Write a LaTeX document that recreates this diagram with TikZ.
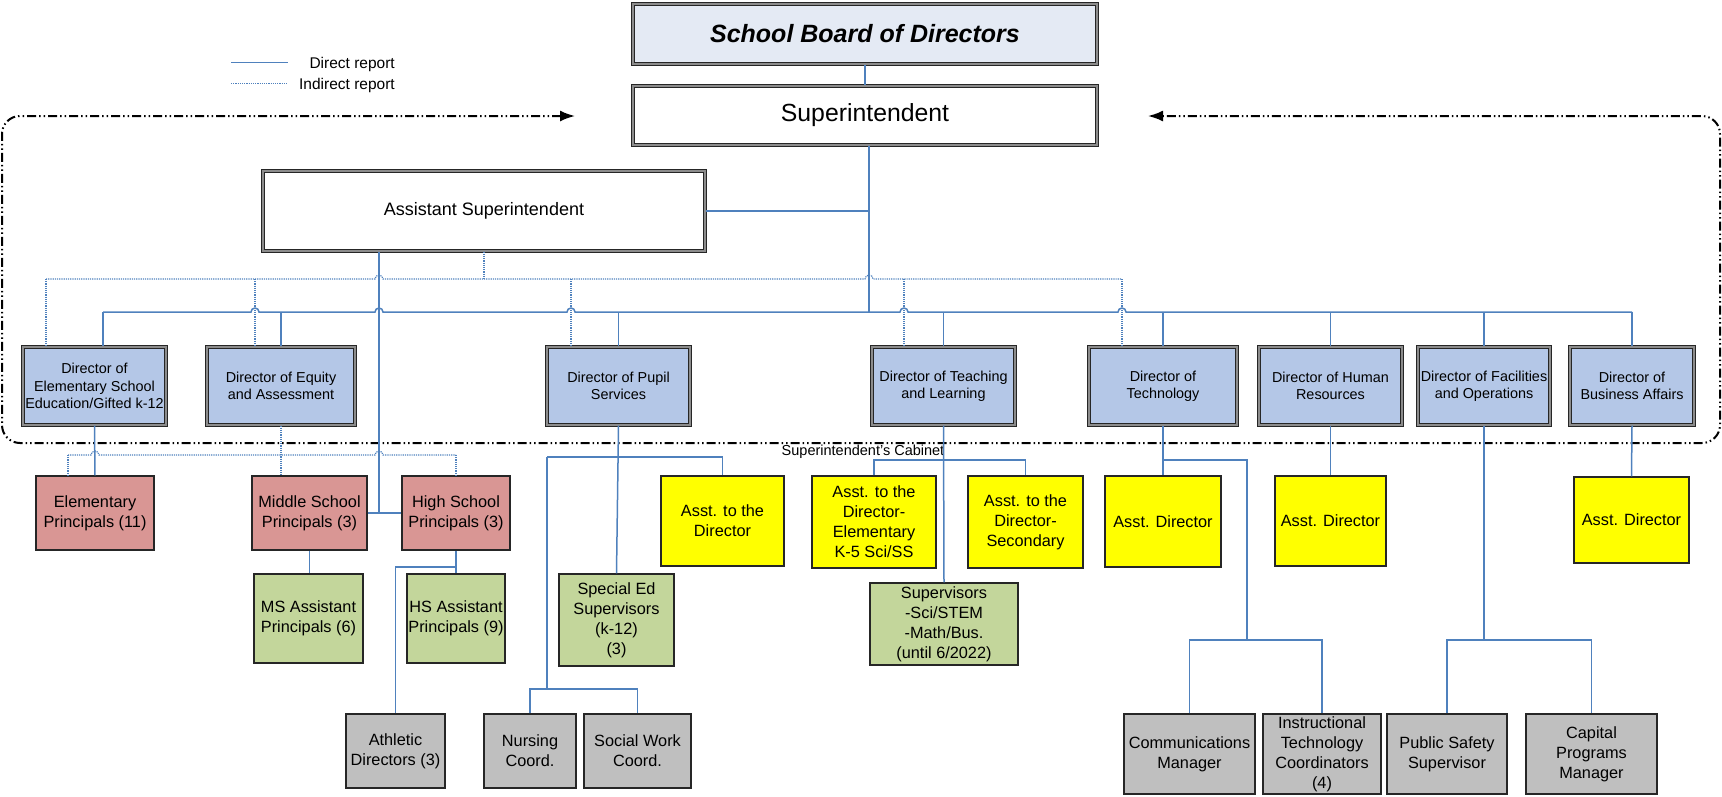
\documentclass[tikz,border=0pt]{standalone}
\usepackage{fontspec}
\setmainfont{Liberation Sans}
\usetikzlibrary{arrows.meta}
\definecolor{lnblue}{HTML}{4F81BD}
\definecolor{dirblue}{HTML}{B4C7E7}
\definecolor{boardbg}{HTML}{E4EAF4}
\definecolor{pred}{HTML}{D99694}
\definecolor{pgreen}{HTML}{C3D69B}
\definecolor{pyellow}{HTML}{FFFF00}
\definecolor{pgray}{HTML}{BFBFBF}
\begin{document}
\begin{tikzpicture}[x=1pt,y=-1pt,
  dbl/.style={draw=black!85, line width=1.1pt, double=black!45, double distance=1.8pt, inner sep=0pt, align=center},
  dirbox/.style={dbl, fill=dirblue, minimum height=78pt, font=\fontsize{14.4}{17.3}\selectfont},
  box/.style={draw=black!85, line width=1.4pt, inner sep=0pt, align=center, font=\fontsize{16.3}{20}\selectfont},
  redbox/.style={box, fill=pred},
  greenbox/.style={box, fill=pgreen},
  yelbox/.style={box, fill=pyellow},
  graybox/.style={box, fill=pgray},
  conn/.style={draw=lnblue, line width=1.5pt},
  ind/.style={draw=lnblue, line width=1.2pt, dash pattern=on 1.2pt off 1pt},
  cab/.style={draw=black, line width=2pt, dash pattern=on 9pt off 3pt on 1.5pt off 3pt on 1.5pt off 3pt}
]
\useasboundingbox (0,0) rectangle (1722,796);

% ---------- top boxes ----------
\node[dbl, fill=boardbg, minimum width=464pt, minimum height=60pt, font=\fontsize{25}{30}\selectfont\bfseries\itshape] (board) at (865,34) {School Board of Directors};
\node[dbl, fill=white, minimum width=464pt, minimum height=59pt, font=\fontsize{24.8}{30}\selectfont] (sup) at (865,115.5) {Superintendent};
\node[dbl, fill=white, minimum width=442pt, minimum height=80pt, font=\fontsize{18}{22}\selectfont] (asup) at (484,211) {Assistant Superintendent};

% ---------- directors ----------
\node[dirbox, minimum width=143pt] (delem) at (94.5,386) {Director of\\Elementary School\\Education/Gifted k-12};
\node[dirbox, minimum width=148pt] (dequ) at (281,386) {Director of Equity\\and Assessment};
\node[dirbox, minimum width=143pt] (dpup) at (618.5,386) {Director of Pupil\\Services};
\node[dirbox, minimum width=143pt] (dteach) at (943.5,386) {Director of Teaching\\and Learning};
\node[dirbox, minimum width=148pt] (dtech) at (1163,386) {Director of\\Technology};
\node[dirbox, minimum width=143pt] (dhr) at (1330.5,386) {Director of Human\\Resources};
\node[dirbox, minimum width=132pt] (dfac) at (1484,386) {Director of Facilities\\and Operations};
\node[dirbox, minimum width=124pt] (dbus) at (1632,386) {Director of\\Business Affairs};

% ---------- lower boxes ----------
\node[redbox, minimum width=118pt, minimum height=74pt] (pelem) at (95,513) {Elementary\\Principals (11)};
\node[redbox, minimum width=115pt, minimum height=74pt] (pms) at (309.5,513) {Middle School\\Principals (3)};
\node[redbox, minimum width=108pt, minimum height=74pt] (phs) at (456,513) {High School\\Principals (3)};
\node[greenbox, minimum width=109pt, minimum height=89pt] (msap) at (308.5,618.5) {MS Assistant\\Principals (6)};
\node[greenbox, minimum width=98pt, minimum height=89pt] (hsap) at (456,618.5) {HS Assistant\\Principals (9)};
\node[graybox, minimum width=99pt, minimum height=74pt] (ath) at (395.5,751) {Athletic\\Directors (3)};
\node[graybox, minimum width=92pt, minimum height=74pt] (nurse) at (530,751) {Nursing\\Coord.};
\node[graybox, minimum width=107pt, minimum height=74pt] (social) at (637.5,751) {Social Work\\Coord.};
\node[yelbox, minimum width=123pt, minimum height=90pt] (atd) at (722.5,521) {Asst. to the\\Director};
\node[greenbox, minimum width=115pt, minimum height=92pt] (sped) at (616.5,620) {Special Ed\\Supervisors\\(k-12)\\(3)};
\node[yelbox, minimum width=124pt, minimum height=92pt] (ate) at (874,522) {Asst. to the\\Director-\\Elementary\\K-5 Sci/SS};
\node[yelbox, minimum width=115pt, minimum height=92pt] (ats) at (1025.5,522) {Asst. to the\\Director-\\Secondary};
\node[greenbox, minimum width=148pt, minimum height=82pt] (supv) at (944,624) {Supervisors\\-Sci/STEM\\-Math/Bus.\\(until 6/2022)};
\node[yelbox, minimum width=116pt, minimum height=91pt] (tad) at (1163,521.5) {Asst. Director};
\node[yelbox, minimum width=111pt, minimum height=90pt] (had) at (1330.5,521) {Asst. Director};
\node[yelbox, minimum width=115pt, minimum height=86pt] (bad) at (1631.5,520) {Asst. Director};
\node[graybox, minimum width=131pt, minimum height=80pt] (comm) at (1189.5,754) {Communications\\Manager};
\node[graybox, minimum width=118pt, minimum height=80pt] (instr) at (1322,754) {Instructional\\Technology\\Coordinators\\(4)};
\node[graybox, minimum width=120pt, minimum height=80pt] (pubs) at (1447,754) {Public Safety\\Supervisor};
\node[graybox, minimum width=131pt, minimum height=80pt] (cap) at (1591.5,754) {Capital\\Programs\\Manager};

% ---------- junction coordinates ----------
\coordinate (jS) at (869,312);
\coordinate (jA) at (379,513);
\coordinate (b1) at (103,312);
\coordinate (b8) at (1632,312);
\coordinate (i1) at (46,279);
\coordinate (i2) at (255,279);
\coordinate (i3) at (571,279);
\coordinate (i4) at (904,279);
\coordinate (i5) at (1122,279);
\coordinate (l1) at (68,455);
\coordinate (l2) at (456,455);
\coordinate (h1) at (456,567);
\coordinate (p1) at (547,457);
\coordinate (p3) at (547,689);
\coordinate (t1) at (944,460);
\coordinate (k1) at (1163,460);
\coordinate (k2) at (1247,640);

% ---------- cabinet outline ----------
\coordinate (cabL) at (575,116);
\coordinate (cabR) at (1148,116);
\draw[cab, rounded corners=18pt, {Latex[length=15pt,width=11pt]}-{Latex[length=15pt,width=11pt]}] (cabL) -| (2,443) -| (1720,116) -- (cabR);
\node[font=\fontsize{14.5}{17}\selectfont, inner sep=0pt] (cabtxt) at (863,452) {Superintendent's Cabinet};

% ---------- legend ----------
\node[anchor=east, inner sep=0pt, font=\fontsize{15.5}{18}\selectfont] (lg1) at (395,64) {Direct report};
\node[anchor=east, inner sep=0pt, font=\fontsize{15.5}{18}\selectfont] (lg2) at (395,85) {Indirect report};
\coordinate (lgA) at (231,62);
\coordinate (lgB) at (288,62);
\coordinate (lgC) at (231,83);
\coordinate (lgD) at (288,83);
\draw[conn, line width=1pt] (lgA) -- (lgB);
\draw[ind, line width=1pt] (lgC) -- (lgD);

% ---------- solid connectors, top ----------
\draw[conn] (board.south) -- (sup.north);
\draw[conn] (sup.south -| jS) -- (jS);
\draw[conn] (asup.east) -- (asup.east -| jS);
\draw[conn] (asup.south -| jA) -- (jA);
\draw[conn] (pms.east) -- (phs.west);
% solid bus with bridges
\draw[conn] (b1) -- (251,312) arc[start angle=180,end angle=0,radius=4pt]
  -- (375,312) arc[start angle=180,end angle=0,radius=4pt]
  -- (567,312) arc[start angle=180,end angle=0,radius=4pt]
  -- (900,312) arc[start angle=180,end angle=0,radius=4pt]
  -- (1118,312) arc[start angle=180,end angle=0,radius=4pt]
  -- (b8);
\draw[conn] (b1) -- (b1 |- delem.north);
\draw[conn] (dequ.north) -- (dequ.north |- b1);
\draw[conn] (dpup.north) -- (dpup.north |- b1);
\draw[conn] (dteach.north) -- (dteach.north |- b1);
\draw[conn] (dtech.north) -- (dtech.north |- b1);
\draw[conn] (dhr.north) -- (dhr.north |- b1);
\draw[conn] (dfac.north) -- (dfac.north |- b1);
\draw[conn] (b8) -- (b8 |- dbus.north);

% ---------- indirect connectors, top ----------
\draw[ind] (i1) -- (375,279) arc[start angle=180,end angle=0,radius=4pt]
  -- (865,279) arc[start angle=180,end angle=0,radius=4pt] -- (i5);
\draw[ind] (asup.south) -- (asup.south |- i1);
\draw[ind] (i1) -- (i1 |- delem.north);
\draw[ind] (i2) -- (i2 |- dequ.north);
\draw[ind] (i3) -- (i3 |- dpup.north);
\draw[ind] (i4) -- (i4 |- dteach.north);
\draw[ind] (i5) -- (i5 |- dtech.north);

% ---------- below the cabinet ----------
\draw[conn] (delem.south) -- (pelem.north);
\draw[ind] (dequ.south) -- (dequ.south |- pms.north);
\draw[ind] (l1) -- (91,455) arc[start angle=180,end angle=0,radius=4pt]
  -- (375,455) arc[start angle=180,end angle=0,radius=4pt] -- (l2);
\draw[ind] (l1) -- (l1 |- pelem.north);
\draw[ind] (l2) -- (phs.north);
\draw[conn] (pms.south) -- (pms.south |- msap.north);
\draw[conn] (phs.south) -- (hsap.north);
\draw[conn] (h1) -| (ath.north);

\draw[conn] (dpup.south) -- (sped.north);
\draw[conn] (p1) -- (p1 -| atd.north) -- (atd.north);
\draw[conn] (p1) -- (p3);
\draw[conn] (nurse.north) -- (nurse.north |- p3) -- (social.north |- p3) -- (social.north);

\draw[conn] (dteach.south) -- (supv.north);
\draw[conn] (ate.north) -- (ate.north |- t1) -- (ats.north |- t1) -- (ats.north);

\draw[conn] (dtech.south) -- (tad.north);
\draw[conn] (k1) -| (k2);
\draw[conn] (comm.north) -- (comm.north |- k2) -- (instr.north |- k2) -- (instr.north);

\draw[conn] (dhr.south) -- (had.north);

\draw[conn] (dfac.south) -- (dfac.south |- k2);
\draw[conn] (pubs.north) -- (pubs.north |- k2) -- (cap.north |- k2) -- (cap.north);

\draw[conn] (dbus.south) -- (bad.north);
\end{tikzpicture}
\end{document}
